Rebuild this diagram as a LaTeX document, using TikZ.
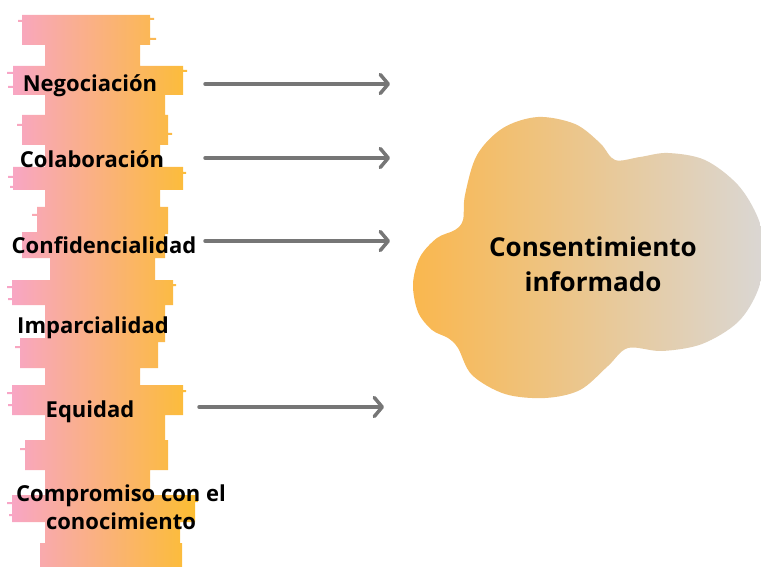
\documentclass[tikz,border=0pt]{standalone}
\usepackage{fontspec}
\setmainfont{Open Sans}
\usetikzlibrary{arrows.meta}
\definecolor{brushpink}{RGB}{248,165,200}
\definecolor{brushorange}{RGB}{252,190,48}
\definecolor{cloudorange}{RGB}{250,183,78}
\definecolor{cloudgray}{RGB}{218,215,212}
\definecolor{arrowgray}{RGB}{118,118,118}
\tikzset{
  lbl/.style={font=\bfseries\fontsize{22}{28}\selectfont, text=black, align=center, inner sep=0pt},
  cloudlbl/.style={font=\bfseries\fontsize{26}{35}\selectfont, text=black, align=center, inner sep=0pt},
  conn/.style={draw=arrowgray, line width=3.5pt, line cap=round,
    -{Straight Barb[length=8pt,width=19pt,line cap=round,line join=round]}},
}
\begin{document}
\begin{tikzpicture}[x=1pt,y=-1pt]
\useasboundingbox (0,0) rectangle (761,567);
% brush column
\shade[left color=brushpink, right color=brushorange]
  (22,15) rectangle (150,45)
  (18,20) rectangle (24,22) (148,18) rectangle (154,20) (148,38) rectangle (156,40)
  (45,40) rectangle (140,68)
  (13,66) rectangle (183,95)
  (7,72) rectangle (14,74) (8,86) rectangle (14,88) (182,70) rectangle (187,72)
  (45,92) rectangle (165,117)
  (22,115) rectangle (168,145)
  (17,124) rectangle (23,126) (166,133) rectangle (172,135)
  (45,143) rectangle (160,168)
  (13,167) rectangle (183,190)
  (8,176) rectangle (14,178) (10,186) rectangle (14,188) (182,172) rectangle (186,174)
  (45,188) rectangle (160,210)
  (37,207) rectangle (168,234)
  (32,214) rectangle (38,216)
  (22,232) rectangle (165,258)
  (50,256) rectangle (155,282)
  (12,280) rectangle (173,305)
  (7,286) rectangle (13,288) (8,298) rectangle (13,300) (172,284) rectangle (176,286)
  (45,303) rectangle (165,342)
  (20,338) rectangle (158,368)
  (15,346) rectangle (21,348)
  (45,365) rectangle (140,388)
  (12,385) rectangle (183,415)
  (7,392) rectangle (13,394) (8,404) rectangle (13,406) (182,390) rectangle (186,392)
  (45,412) rectangle (165,442)
  (25,440) rectangle (168,470)
  (20,448) rectangle (26,450)
  (45,468) rectangle (150,498)
  (12,495) rectangle (195,522)
  (7,502) rectangle (13,504) (9,514) rectangle (13,516) (194,500) rectangle (198,502)
  (45,520) rectangle (180,545)
  (40,543) rectangle (182,567);
% cloud
\shade[left color=cloudorange, right color=cloudgray]
  plot[smooth cycle, tension=0.55] coordinates {
    (413,284) (420,257) (437,238) (455,230) (463,220) (465,195) (477,155) (503,128)
    (538,117) (575,124) (600,143) (615,160) (640,157) (668,153) (705,160)
    (738,185) (758,218) (765,252) (758,290) (738,322) (702,344) (662,351)
    (628,348) (608,366) (580,390) (545,398) (505,394) (472,375) (458,348)
    (448,338) (432,330) (418,312)};
\node[cloudlbl] (ci) at (593,264) {Consentimiento\\informado};
% labels
\node[lbl] (neg) at (90,86) {Negociación};
\node[lbl] (col) at (92,159) {Colaboración};
\node[lbl] (con) at (104,245) {Confidencialidad};
\node[lbl] (imp) at (93,328) {Imparcialidad};
\node[lbl] (equ) at (90,412) {Equidad};
\node[lbl] (com) at (121,507) {Compromiso con el\\conocimiento};
% arrows
\coordinate (s1) at (205,84);  \coordinate (e1) at (390,84);
\coordinate (s2) at (205,158); \coordinate (e2) at (390,158);
\coordinate (s3) at (205,241); \coordinate (e3) at (390,241);
\coordinate (s5) at (199,407); \coordinate (e5) at (384,407);
\draw[conn] (s1) -- (e1);
\draw[conn] (s2) -- (e2);
\draw[conn] (s3) -- (e3);
\draw[conn] (s5) -- (e5);
\end{tikzpicture}
\end{document}
